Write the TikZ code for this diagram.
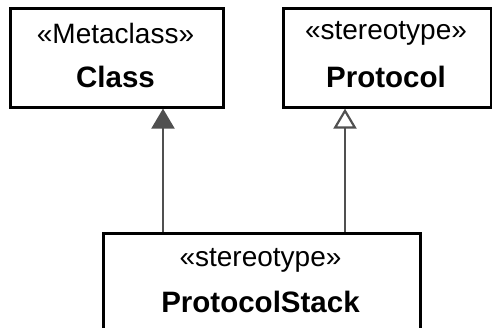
\documentclass[tikz,border=0pt]{standalone}
\usepackage{fontspec}
\setmainfont{Liberation Sans}
\usetikzlibrary{arrows.meta}
\definecolor{linegray}{HTML}{505050}
\begin{document}
\begin{tikzpicture}[x=1pt,y=-1pt,
  classbox/.style={draw=black,line width=2.6pt,fill=white},
  stereo/.style={font=\fontsize{28}{32}\selectfont,inner sep=0pt},
  cname/.style={font=\fontsize{29.5}{34}\selectfont\bfseries,inner sep=0pt},
  genfilled/.style={draw=linegray,line width=2.2pt,-{Triangle[length=20pt,width=23pt,fill=linegray]}},
  genopen/.style={draw=linegray,line width=2.2pt,-{Triangle[open,length=20pt,width=23pt,fill=white,line width=2.2pt]}}]
\useasboundingbox (0,0) rectangle (492,327);
\clip (0,0) rectangle (492,327);
% boxes
\node[classbox,minimum width=213pt,minimum height=99pt,anchor=north west] (class) at (9,7) {};
\node[classbox,minimum width=208pt,minimum height=99pt,anchor=north west] (proto) at (282,7) {};
\node[classbox,minimum width=317pt,minimum height=140pt,anchor=north west] (stack) at (102,232) {};
% texts
\node[stereo] (classst) at (115.5,33) {«Metaclass»};
\node[cname] (classnm) at (115.5,77) {Class};
\node[stereo] (protost) at (386,33) {«stereotype»};
\node[cname] (protonm) at (386,77) {Protocol};
\node[stereo] (stackst) at (260.5,260) {«stereotype»};
\node[cname] (stacknm) at (260.5,302) {ProtocolStack};
% connectors
\coordinate (a1) at (163,0);
\coordinate (a2) at (345,0);
\draw[genfilled] (stack.north -| a1) -- (class.south -| a1);
\draw[genopen] (stack.north -| a2) -- (proto.south -| a2);
\end{tikzpicture}
\end{document}
